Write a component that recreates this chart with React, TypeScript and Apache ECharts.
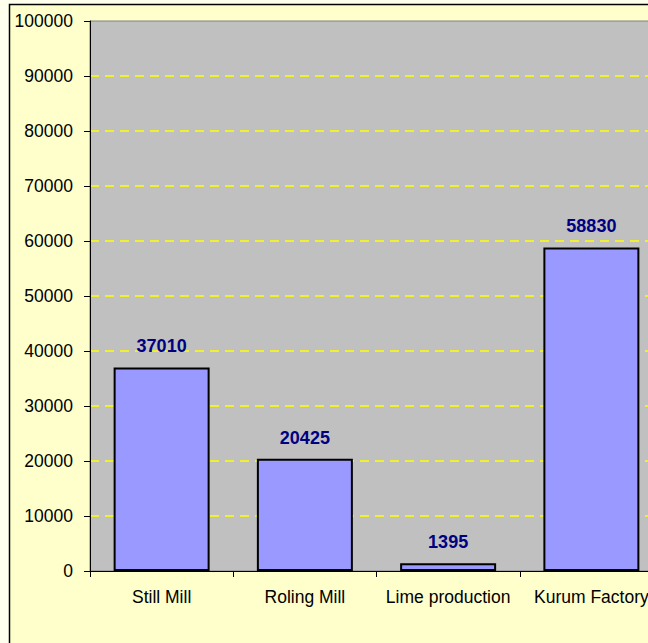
import React, { useEffect, useRef } from "react";
import * as echarts from "echarts";

const categories = ["Still Mill", "Roling Mill", "Lime production", "Kurum Factory"];
const values = [37010, 20425, 1395, 58830];
const yMin = 0;
const yMax = 100000;
const yInterval = 10000;

const FONT = "'Liberation Sans', Arial, sans-serif";

export default function App() {
  const ref = useRef<HTMLDivElement>(null);
  useEffect(() => {
    if (!ref.current) return;
    const chart = echarts.init(ref.current, undefined, { renderer: "svg" });
    chart.setOption({
      animation: false,
      backgroundColor: "#FFFFEE",
      graphic: [
        {
          type: "rect",
          z: -10,
          shape: { x: 9.5, y: 4.5, width: 900, height: 900 },
          style: { fill: "#FFFFCC", stroke: "#000000", lineWidth: 1.5 },
        },
      ],
      grid: {
        left: 90,
        top: 21,
        width: 573,
        height: 550,
        show: true,
        backgroundColor: "#C0C0C0",
        borderColor: "#808080",
        borderWidth: 1,
      },
      xAxis: {
        type: "category",
        data: categories,
        axisLine: { show: true, lineStyle: { color: "#000000", width: 1 } },
        axisTick: { show: true, length: 6, alignWithLabel: false, lineStyle: { color: "#000000" } },
        axisLabel: { color: "#000000", fontSize: 17.5, fontFamily: FONT, margin: 17, interval: 0 },
        splitLine: { show: false },
      },
      yAxis: {
        type: "value",
        min: yMin,
        max: yMax,
        interval: yInterval,
        axisLine: { show: true, lineStyle: { color: "#000000", width: 1 } },
        axisTick: { show: true, length: 6, lineStyle: { color: "#000000" } },
        axisLabel: {
          color: "#000000",
          fontSize: 17.5,
          fontFamily: FONT,
          margin: 17,
          formatter: (v: number) => String(v),
        },
        splitLine: {
          show: true,
          showMinLine: false,
          showMaxLine: false,
          lineStyle: { color: ["#FFFF00"], type: [9, 6], width: 1.5, opacity: 1 },
        },
      },
      series: [
        {
          type: "bar",
          data: values,
          barWidth: 96,
          itemStyle: { color: "#9999FF", borderColor: "#000000", borderWidth: 2 },
          label: {
            show: true,
            position: "top",
            distance: 12,
            color: "#000080",
            fontWeight: "bold",
            fontSize: 18,
            fontFamily: FONT,
          },
        },
      ],
    });
    return () => chart.dispose();
  }, []);
  return (
    <div
      style={{
        position: "fixed",
        left: 0,
        top: 0,
        width: 648,
        height: 643,
        overflow: "hidden",
      }}
    >
      <div ref={ref} style={{ width: 700, height: 660 }} />
    </div>
  );
}
